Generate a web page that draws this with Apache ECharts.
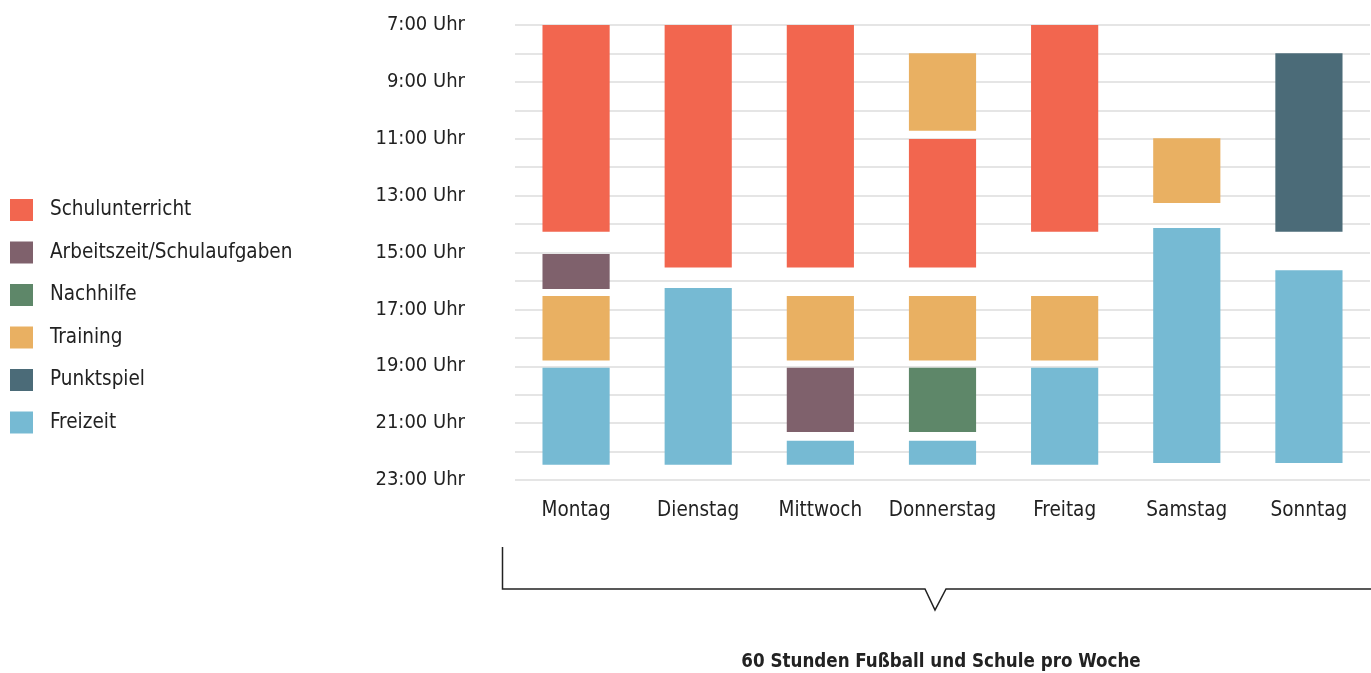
<!DOCTYPE html>
<html>
<head>
<meta charset="utf-8">
<script src="https://cdn.jsdelivr.net/npm/echarts@6/dist/echarts.min.js"></script>
<style>
  html, body { margin: 0; padding: 0; background: #fff; }
  #chart { width: 1371px; height: 673px; }
</style>
</head>
<body>
<div id="chart"></div>
<script>
// Wochentage (Kategorien der x-Achse)
const days = ['Montag', 'Dienstag', 'Mittwoch', 'Donnerstag', 'Freitag', 'Samstag', 'Sonntag'];

// Zeitblöcke je Aktivität: [Tag, Beginn (Stunde), Ende (Stunde)]
const schulunterricht = [
  ['Montag', 7.0, 14.27], ['Dienstag', 7.0, 15.53], ['Mittwoch', 7.0, 15.53],
  ['Donnerstag', 11.01, 15.53], ['Freitag', 7.0, 14.27]
];
const arbeitszeit = [
  ['Montag', 15.05, 16.28], ['Mittwoch', 19.05, 21.31]
];
const nachhilfe = [
  ['Donnerstag', 19.05, 21.31]
];
const training = [
  ['Montag', 16.53, 18.80], ['Mittwoch', 16.53, 18.80], ['Donnerstag', 7.99, 10.72],
  ['Donnerstag', 16.53, 18.80], ['Freitag', 16.53, 18.80], ['Samstag', 10.98, 13.26]
];
const punktspiel = [
  ['Sonntag', 7.99, 14.27]
];
const freizeit = [
  ['Montag', 19.05, 22.46], ['Dienstag', 16.25, 22.46], ['Mittwoch', 21.62, 22.46],
  ['Donnerstag', 21.62, 22.46], ['Freitag', 19.05, 22.46], ['Samstag', 14.14, 22.40],
  ['Sonntag', 15.62, 22.40]
];

// Achsenbereich der Uhrzeit
const hourMin = 7;
const hourMax = 23;

const FONT = "'DejaVu Sans Condensed', 'Liberation Sans Narrow', 'Liberation Sans', sans-serif";
const TEXT = '#222222';

function renderBlock(params, api) {
  const start = api.coord([api.value(0), api.value(1)]);
  const end = api.coord([api.value(0), api.value(2)]);
  const w = api.size([1, 0])[0] * 0.55;
  return {
    type: 'rect',
    shape: { x: start[0] - w / 2, y: start[1], width: w, height: end[1] - start[1] },
    style: api.style()
  };
}

function blockSeries(name, data, color) {
  return {
    name: name,
    type: 'custom',
    renderItem: renderBlock,
    encode: { x: 0, y: [1, 2] },
    itemStyle: { color: color },
    data: data
  };
}

const chart = echarts.init(document.getElementById('chart'), null, { renderer: 'canvas' });

chart.setOption({
  animation: false,
  backgroundColor: '#ffffff',
  textStyle: { fontFamily: FONT },
  grid: { left: 515, right: 1, top: 25, bottom: 193, containLabel: false },
  legend: {
    orient: 'vertical',
    left: 10,
    top: 199,
    padding: 0,
    icon: 'rect',
    itemWidth: 23,
    itemHeight: 22,
    itemGap: 20.5,
    selectedMode: false,
    textStyle: { fontFamily: FONT, fontSize: 20.5, color: TEXT, padding: [0, 0, 0, 12] },
    data: ['Schulunterricht', 'Arbeitszeit/Schulaufgaben', 'Nachhilfe', 'Training', 'Punktspiel', 'Freizeit']
  },
  xAxis: {
    type: 'category',
    data: days,
    axisLine: { show: false },
    axisTick: { show: false },
    axisLabel: { fontFamily: FONT, fontSize: 20.5, color: TEXT, margin: 20, interval: 0 }
  },
  yAxis: {
    type: 'value',
    inverse: true,
    min: hourMin,
    max: hourMax,
    interval: 1,
    axisLine: { show: false },
    axisTick: { show: false },
    splitLine: { show: true, lineStyle: { color: '#dcdcdc', width: 1.5 } },
    axisLabel: {
      fontFamily: FONT, fontSize: 20, color: TEXT, margin: 50,
      formatter: function (v) { return (v - hourMin) % 2 === 0 ? v + ':00 Uhr' : ''; }
    }
  },
  graphic: [
    {
      type: 'polyline',
      shape: { points: [[502.5, 547], [502.5, 589], [925, 589], [935, 610], [946, 589], [1371, 589]] },
      style: { stroke: TEXT, lineWidth: 1.5, fill: null }
    },
    {
      type: 'text',
      x: 941,
      y: 662,
      style: {
        text: '60 Stunden Fußball und Schule pro Woche',
        font: "bold 18.6px " + FONT, fill: TEXT, align: 'center', verticalAlign: 'middle'
      }
    }
  ],
  series: [
    blockSeries('Schulunterricht', schulunterricht, '#F2664F'),
    blockSeries('Arbeitszeit/Schulaufgaben', arbeitszeit, '#7F616C'),
    blockSeries('Nachhilfe', nachhilfe, '#5E8769'),
    blockSeries('Training', training, '#E9B062'),
    blockSeries('Punktspiel', punktspiel, '#4B6B78'),
    blockSeries('Freizeit', freizeit, '#76BAD3')
  ]
});
</script>
</body>
</html>
